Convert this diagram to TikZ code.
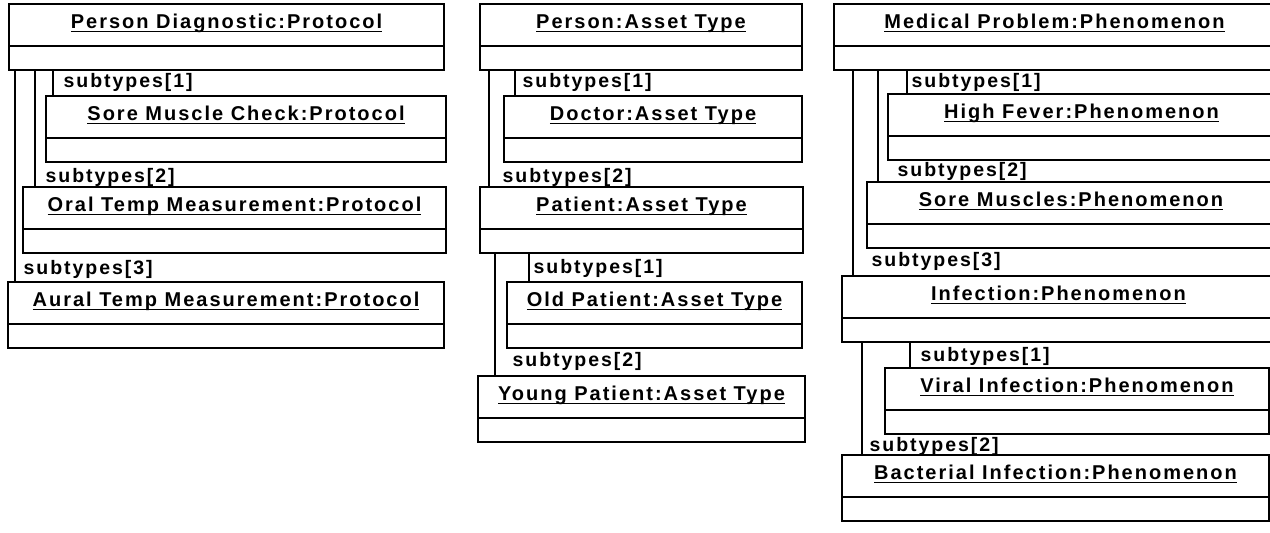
\documentclass[tikz,border=0pt]{standalone}
\usepackage{fontspec}
\usepackage{tikz}
\usetikzlibrary{positioning}
\newfontfamily\umlfont{Liberation Sans}[LetterSpace=10]
\newcommand{\objtitle}[1]{\setbox0=\hbox{#1}\rlap{\copy0}\rule[-4pt]{\wd0}{1.4pt}}
\tikzstyle{header} = [rectangle, draw=black, line width=1.3pt, minimum height=42pt, inner sep=0pt, outer sep=0pt, text height=14pt, text depth=8pt, font=\umlfont\bfseries\fontsize{20}{22}\selectfont]
\tikzstyle{compart} = [rectangle, draw=black, line width=1.3pt, minimum height=24pt, inner sep=0pt, outer sep=0pt]
\tikzstyle{link} = [line width=1.3pt]
\tikzstyle{role} = [anchor=base west, inner sep=0pt, font=\umlfont\bfseries\fontsize{19.5}{22}\selectfont]

\begin{document}
\begin{tikzpicture}[x=1pt, y=1pt]
    \useasboundingbox (0,0) rectangle (1270,-533);

    % Protocols
    \node[header, minimum width=435pt, anchor=north west] (pd) at (9,-4) {\objtitle{Person Diagnostic:Protocol}};
    \node[compart, minimum width=435pt, below=0pt of pd] (pdB) {};
    \node[header, minimum width=400pt, below right=26pt and 37pt of pdB.south west] (smc) {\objtitle{Sore Muscle Check:Protocol}};
    \node[compart, minimum width=400pt, below=0pt of smc] (smcB) {};
    \node[header, minimum width=423pt, below right=25pt and -23pt of smcB.south west] (otm) {\objtitle{Oral Temp Measurement:Protocol}};
    \node[compart, minimum width=423pt, below=0pt of otm] (otmB) {};
    \node[header, minimum width=436pt, below right=29pt and -15pt of otmB.south west] (atm) {\objtitle{Aural Temp Measurement:Protocol}};
    \node[compart, minimum width=436pt, below=0pt of atm] (atmB) {};

    % Asset types
    \node[header, minimum width=322pt, anchor=north west] (person) at (480,-4) {\objtitle{Person:Asset Type}};
    \node[compart, minimum width=322pt, below=0pt of person] (personB) {};
    \node[header, minimum width=298pt, below right=26pt and 24pt of personB.south west] (doctor) {\objtitle{Doctor:Asset Type}};
    \node[compart, minimum width=298pt, below=0pt of doctor] (doctorB) {};
    \node[header, minimum width=323pt, below right=25pt and -24pt of doctorB.south west] (patient) {\objtitle{Patient:Asset Type}};
    \node[compart, minimum width=323pt, below=0pt of patient] (patientB) {};
    \node[header, minimum width=295pt, below right=29pt and 27pt of patientB.south west] (oldpat) {\objtitle{Old Patient:Asset Type}};
    \node[compart, minimum width=295pt, below=0pt of oldpat] (oldpatB) {};
    \node[header, minimum width=327pt, below right=28pt and -29pt of oldpatB.south west] (youngpat) {\objtitle{Young Patient:Asset Type}};
    \node[compart, minimum width=327pt, below=0pt of youngpat] (youngpatB) {};

    % Phenomena
    \node[header, minimum width=441pt, anchor=north west] (medical) at (834,-4) {\objtitle{Medical Problem:Phenomenon}};
    \node[compart, minimum width=441pt, below=0pt of medical] (medicalB) {};
    \node[header, minimum width=387pt, below right=24pt and 54pt of medicalB.south west] (fever) {\objtitle{High Fever:Phenomenon}};
    \node[compart, minimum width=387pt, below=0pt of fever] (feverB) {};
    \node[header, minimum width=408pt, below right=22pt and -21pt of feverB.south west] (soremus) {\objtitle{Sore Muscles:Phenomenon}};
    \node[compart, minimum width=408pt, below=0pt of soremus] (soremusB) {};
    \node[header, minimum width=433pt, below right=28pt and -25pt of soremusB.south west] (infection) {\objtitle{Infection:Phenomenon}};
    \node[compart, minimum width=433pt, below=0pt of infection] (infectionB) {};
    \node[header, minimum width=384pt, below right=26pt and 43pt of infectionB.south west] (viral) {\objtitle{Viral Infection:Phenomenon}};
    \node[compart, minimum width=384pt, below=0pt of viral] (viralB) {};
    \node[header, minimum width=427pt, below right=21pt and -43pt of viralB.south west] (bacterial) {\objtitle{Bacterial Infection:Phenomenon}};
    \node[compart, minimum width=427pt, below=0pt of bacterial] (bacterialB) {};

    % Subtype links
    \draw[link] ([xshift=44pt]pdB.south west) -- ([xshift=7pt]smc.north west) node[role, xshift=10pt, yshift=9pt] {subtypes[1]};
    \draw[link] ([xshift=26pt]pdB.south west) -- ([xshift=12pt]otm.north west) node[role, xshift=10pt, yshift=5pt] {subtypes[2]};
    \draw[link] ([xshift=6pt]pdB.south west) -- ([xshift=7pt]atm.north west) node[role, xshift=8pt, yshift=8pt] {subtypes[3]};

    \draw[link] ([xshift=35pt]personB.south west) -- ([xshift=11pt]doctor.north west) node[role, xshift=7pt, yshift=9pt] {subtypes[1]};
    \draw[link] ([xshift=9pt]personB.south west) -- ([xshift=9pt]patient.north west) node[role, xshift=13pt, yshift=5pt] {subtypes[2]};
    \draw[link] ([xshift=49pt]patientB.south west) -- ([xshift=22pt]oldpat.north west) node[role, xshift=4pt, yshift=9pt] {subtypes[1]};
    \draw[link] ([xshift=15pt]patientB.south west) -- ([xshift=17pt]youngpat.north west) node[role, xshift=17pt, yshift=10pt] {subtypes[2]};

    \draw[link] ([xshift=73pt]medicalB.south west) -- ([xshift=19pt]fever.north west) node[role, xshift=4pt, yshift=7pt] {subtypes[1]};
    \draw[link] ([xshift=44pt]medicalB.south west) -- ([xshift=11pt]soremus.north west) node[role, xshift=19pt, yshift=6pt] {subtypes[2]};
    \draw[link] ([xshift=19pt]medicalB.south west) -- ([xshift=11pt]infection.north west) node[role, xshift=18pt, yshift=10pt] {subtypes[3]};
    \draw[link] ([xshift=68pt]infectionB.south west) -- ([xshift=25pt]viral.north west) node[role, xshift=10pt, yshift=7pt] {subtypes[1]};
    \draw[link] ([xshift=20pt]infectionB.south west) -- ([xshift=20pt]bacterial.north west) node[role, xshift=7pt, yshift=4pt] {subtypes[2]};

\end{tikzpicture}
\end{document}
